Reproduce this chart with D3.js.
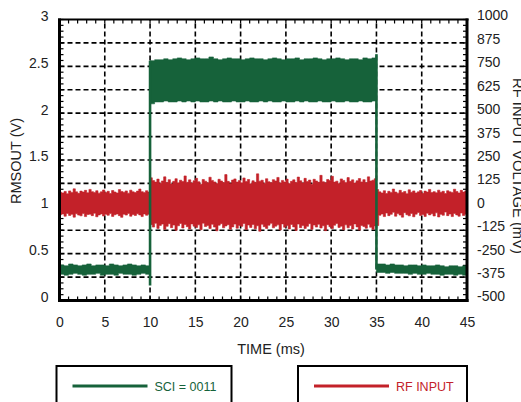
<!DOCTYPE html>
<html><head><meta charset="utf-8">
<script src="https://cdn.jsdelivr.net/npm/d3@7"></script>
<style>html,body{margin:0;padding:0;background:#fff;}svg{display:block;}text{font-family:"Liberation Sans",Arial,sans-serif;}</style>
</head><body>
<script>
// ---- data ----
const xTicks = [0,5,10,15,20,25,30,35,40,45];
const leftTicks = [0,0.5,1,1.5,2,2.5,3];
const leftTickLabels = ["0","0.5","1","1.5","2","2.5","3"];
const rightTicks = [-500,-375,-250,-125,0,125,250,375,500,625,750,875,1000];
const rightTickLabels = ["-500","-375","-250","-125","0","125","250","375","500","625","750","875","1000"];
const seriesNames = ["SCI = 0011","RF INPUT"];

// RF input envelope (mV), sampled every 0.25 ms from 0 to 45 ms
const redStep = 0.25;
const redHi = [78,74,82,70,85,76,96,80,72,84,79,88,75,93,81,77,86,73,80,90,76,83,71,87,79,74,92,82,78,85,73,89,80,76,84,95,81,77,86,79,
155,140,132,148,126,138,160,130,145,122,136,150,128,142,135,165,131,144,127,139,
152,134,120,146,137,129,158,141,133,124,147,138,130,172,136,125,143,149,132,140,
128,154,135,146,123,139,131,176,137,142,126,150,134,129,145,138,157,127,141,133,
148,124,136,144,130,159,139,127,152,135,143,121,147,138,131,168,134,128,146,140,
163,132,137,125,149,141,130,156,136,144,127,139,151,133,145,129,160,138,142,150,
92,80,74,86,71,83,77,95,79,73,88,76,82,70,91,78,85,74,80,87,72,84,79,93,76,81,75,89,78,83,71,86,80,77,94,82,74,88,79,85,80];
const redLo = [-42,-38,-50,-35,-46,-40,-55,-37,-44,-48,-36,-52,-41,-39,-47,-34,-53,-43,-38,-49,-40,-45,-36,-51,-42,-38,-47,-56,-39,-44,-35,-50,-41,-46,-37,-43,-52,-38,-45,-40,
-95,-108,-88,-115,-99,-92,-120,-104,-90,-111,-97,-125,-101,-89,-113,-94,-106,-118,-91,-103,
-110,-96,-122,-87,-105,-100,-116,-93,-108,-128,-98,-90,-112,-102,-95,-119,-107,-92,-114,-99,
-104,-89,-121,-97,-110,-94,-117,-101,-130,-93,-106,-115,-98,-88,-112,-103,-96,-123,-91,-109,
-100,-118,-94,-107,-126,-92,-111,-99,-115,-104,-90,-120,-97,-108,-93,-113,-101,-127,-95,-106,
-116,-98,-89,-110,-103,-122,-96,-112,-100,-118,-91,-107,-124,-99,-105,-114,-93,-109,-120,-102,
-100,-45,-38,-52,-33,-47,-40,-29,-50,-36,-44,-55,-31,-42,-48,-35,-53,-39,-30,-46,-41,-51,-34,-43,-37,-49,-32,-54,-40,-45,-28,-47,-38,-52,-35,-43,-50,-33,-46,-39,-44];

// RMSOUT envelope (V), sampled every 0.5 ms from 0 to 45 ms
const greenStep = 0.5;
const greenHi = [0.38,0.37,0.39,0.38,0.37,0.38,0.39,0.37,0.38,0.38,0.37,0.39,0.38,0.37,0.38,0.39,0.38,0.37,0.38,0.37,
2.56,2.57,2.57,2.58,2.57,2.58,2.59,2.58,2.57,2.58,2.59,2.58,2.58,2.60,2.58,2.57,2.58,2.59,2.58,2.58,
2.57,2.58,2.59,2.58,2.58,2.57,2.58,2.59,2.58,2.57,2.58,2.58,2.59,2.57,2.58,2.58,2.59,2.58,2.57,2.58,
2.58,2.59,2.58,2.57,2.58,2.58,2.57,2.59,2.58,2.59,
0.39,0.39,0.38,0.39,0.38,0.38,0.37,0.38,0.38,0.37,0.38,0.37,0.37,0.38,0.37,0.36,0.37,0.37,0.36,0.37,0.37];
const greenLo = [0.28,0.27,0.28,0.29,0.28,0.27,0.28,0.28,0.29,0.27,0.28,0.28,0.27,0.29,0.28,0.28,0.27,0.28,0.29,0.28,
2.10,2.12,2.12,2.13,2.12,2.12,2.13,2.12,2.13,2.12,2.13,2.12,2.12,2.13,2.12,2.13,2.12,2.12,2.13,2.12,
2.12,2.13,2.12,2.12,2.13,2.12,2.13,2.12,2.12,2.13,2.12,2.12,2.13,2.12,2.13,2.12,2.12,2.13,2.12,2.12,
2.13,2.12,2.12,2.13,2.12,2.12,2.13,2.12,2.12,2.13,
0.30,0.30,0.29,0.30,0.29,0.29,0.29,0.28,0.29,0.28,0.28,0.29,0.28,0.28,0.27,0.28,0.28,0.27,0.28,0.27,0.27];
// switching edges of RMSOUT (time ms, low V, high V)
const greenEdgeT = [10,35];
const greenEdgeLo = [0.16,0.33];
const greenEdgeHi = [2.56,2.63];

// ---- chart ----
const W=521,H=402;
const GREEN="#16623a", RED="#c32129";
const svg=d3.select("body").append("svg").attr("width",W).attr("height",H);
const x=d3.scaleLinear().domain([0,45]).range([59.5,467]);
const yL=d3.scaleLinear().domain([0,3]).range([300.5,19.5]);
const yR=d3.scaleLinear().domain([-500,1000]).range([300.5,19.5]);

// grid
const grid=svg.append("g").attr("stroke","#000").attr("stroke-width",1.6).attr("stroke-dasharray","5,3");
d3.range(0.25,3,0.25).forEach(v=>grid.append("line").attr("x1",x(0)).attr("x2",x(45)).attr("y1",yL(v)).attr("y2",yL(v)));
xTicks.slice(1,-1).forEach(t=>grid.append("line").attr("y1",yL(0)).attr("y2",yL(3)).attr("x1",x(t)).attr("x2",x(t)));

// minor ticks
const mt=svg.append("g").attr("stroke","#000").attr("stroke-width",1.2);
d3.range(0,3.001,0.0625).forEach(v=>{
  mt.append("line").attr("x1",x(0)).attr("x2",x(0)+4).attr("y1",yL(v)).attr("y2",yL(v));
  mt.append("line").attr("x1",x(45)).attr("x2",x(45)-4).attr("y1",yL(v)).attr("y2",yL(v));
});
d3.range(0,45.001,1).forEach(t=>{
  mt.append("line").attr("x1",x(t)).attr("x2",x(t)).attr("y1",yL(0)).attr("y2",yL(0)-4);
  mt.append("line").attr("x1",x(t)).attr("x2",x(t)).attr("y1",yL(3)).attr("y2",yL(3)+4);
});

// RF input band
const redData=redHi.map((h,i)=>({t:i*redStep,hi:h,lo:redLo[i]}));
svg.append("path").datum(redData)
  .attr("d",d3.area().curve(d3.curveStepAfter).x(d=>x(d.t)).y0(d=>yR(d.lo)).y1(d=>yR(d.hi)))
  .attr("fill",RED).attr("stroke",RED).attr("stroke-width",0.6);

// RMSOUT band
const greenData=greenHi.map((h,i)=>({t:i*greenStep,hi:h,lo:greenLo[i]}));
svg.append("path").datum(greenData)
  .attr("d",d3.area().curve(d3.curveStepAfter).x(d=>x(d.t)).y0(d=>yL(d.lo)).y1(d=>yL(d.hi)))
  .attr("fill",GREEN).attr("stroke",GREEN).attr("stroke-width",0.6);
greenEdgeT.forEach((t,i)=>{
  svg.append("line").attr("x1",x(t)).attr("x2",x(t)).attr("y1",yL(greenEdgeLo[i])).attr("y2",yL(greenEdgeHi[i]))
    .attr("stroke",GREEN).attr("stroke-width",2.6);
});

// frame
const fr=svg.append("g").attr("stroke","#000");
fr.append("line").attr("x1",x(0)).attr("x2",x(0)).attr("y1",yL(3)-1).attr("y2",yL(0)+1.5).attr("stroke-width",3);
fr.append("line").attr("x1",x(45)).attr("x2",x(45)).attr("y1",yL(3)-1).attr("y2",yL(0)+1.5).attr("stroke-width",3);
fr.append("line").attr("x1",x(0)-1.5).attr("x2",x(45)+1.5).attr("y1",yL(0)).attr("y2",yL(0)).attr("stroke-width",3);
fr.append("line").attr("x1",x(0)-1.5).attr("x2",x(45)+1.5).attr("y1",yL(3)).attr("y2",yL(3)).attr("stroke-width",2);

// axes labels
const tc="#222";
const gl=svg.append("g").attr("transform","translate(0,-3.5)")
  .call(d3.axisLeft(yL).tickValues(leftTicks).tickSize(0).tickPadding(11).tickFormat((d,i)=>leftTickLabels[i]));
gl.attr("transform",`translate(${x(0)},-3.5)`);
const gr=svg.append("g").attr("transform",`translate(${x(45)},-4)`)
  .call(d3.axisRight(yR).tickValues(rightTicks).tickSize(0).tickPadding(10).tickFormat((d,i)=>rightTickLabels[i]));
const gb=svg.append("g").attr("transform",`translate(0,${yL(0)})`)
  .call(d3.axisBottom(x).tickValues(xTicks).tickSize(0).tickPadding(17).tickFormat(d3.format("d")));
[gl,gr,gb].forEach(g=>{g.select(".domain").remove();g.selectAll("text").attr("font-size",14).attr("fill",tc).attr("font-family","Liberation Sans, Arial, sans-serif");});

// titles
svg.append("text").attr("x",271).attr("y",354).attr("text-anchor","middle").attr("font-size",14.5).attr("fill",tc).text("TIME (ms)");
svg.append("text").attr("transform","translate(21,161) rotate(-90)").attr("text-anchor","middle").attr("font-size",14.5).attr("fill",tc).text("RMSOUT (V)");
svg.append("text").attr("transform","translate(513,166) rotate(90)").attr("text-anchor","middle").attr("font-size",14.8).attr("fill",tc).text("RF INPUT VOLTAGE (mV)");

// legend
const legend=[{x0:56.5,w:175,c:GREEN},{x0:298,w:169,c:RED}];
legend.forEach((l,i)=>{
  svg.append("rect").attr("x",l.x0).attr("y",366).attr("width",l.w).attr("height",60).attr("fill","none").attr("stroke","#000").attr("stroke-width",2);
  svg.append("line").attr("x1",l.x0+16).attr("x2",l.x0+91).attr("y1",386).attr("y2",386).attr("stroke",l.c).attr("stroke-width",3);
  svg.append("text").attr("x",l.x0+98).attr("y",390.5).attr("font-size",12.5).attr("fill",l.c).text(seriesNames[i]);
});
</script>
</body></html>
